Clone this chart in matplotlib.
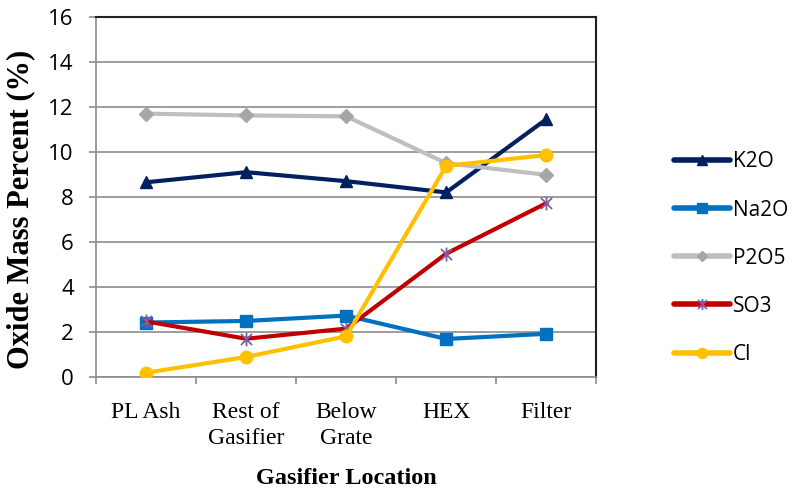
import matplotlib
matplotlib.use("Agg")
import matplotlib.pyplot as plt
from matplotlib.path import Path
from matplotlib.ticker import FixedLocator, NullFormatter

locations = ["PL Ash", "Rest of\nGasifier", "Below\nGrate", "HEX", "Filter"]
k2o = [8.65, 9.1, 8.7, 8.2, 11.45]
na2o = [2.42, 2.49, 2.73, 1.69, 1.92]
p2o5 = [11.7, 11.62, 11.58, 9.5, 8.98]
so3 = [2.47, 1.7, 2.15, 5.48, 7.72]
cl = [0.19, 0.89, 1.81, 9.38, 9.86]
y_ticks = [0, 2, 4, 6, 8, 10, 12, 14, 16]

# six-armed asterisk marker (an "x" with a vertical stroke)
asterisk = Path(
    [(-1, -1), (1, 1), (-1, 1), (1, -1), (0, -1.25), (0, 1.25)],
    [Path.MOVETO, Path.LINETO, Path.MOVETO, Path.LINETO, Path.MOVETO, Path.LINETO],
)

fig = plt.figure(figsize=(7.94, 4.9), dpi=100)
ax = fig.add_axes([0.121, 0.2306, 0.630, 0.735])

x = list(range(len(locations)))
lw = 3.0
ax.plot(x, k2o, color="#002060", lw=lw, marker="^", ms=9, label="K2O", zorder=3)
ax.plot(x, na2o, color="#0070C0", lw=lw, marker="s", ms=9, label="Na2O", zorder=3)
ax.plot(x, p2o5, color="#BFBFBF", lw=lw, marker="D", ms=7,
        mfc="#A6A6A6", mec="#A6A6A6", label="P2O5", zorder=3)
ax.plot(x, so3, color="#C00000", lw=lw, marker=asterisk, ms=10, mew=1.3,
        mec="#7F5FA0", mfc="none", label="SO3", zorder=4)
ax.plot(x, cl, color="#FFC000", lw=lw, marker="o", ms=9, label="Cl", zorder=5)

ax.set_xlim(-0.5, len(locations) - 0.5)
ax.set_ylim(0, 16)
ax.yaxis.set_major_locator(FixedLocator(y_ticks))
ax.grid(axis="y", color="#8C8C8C", lw=1.2, zorder=0)

ax.set_xticks(x)
ax.set_xticklabels(locations, fontfamily="Liberation Serif", fontsize=17,
                   linespacing=1.3)
ax.tick_params(axis="x", length=0, pad=18)
ax.xaxis.set_minor_locator(FixedLocator([i - 0.5 for i in range(len(locations) + 1)]))
ax.xaxis.set_minor_formatter(NullFormatter())
ax.tick_params(axis="x", which="minor", length=5, color="#8C8C8C", width=1.2)
ax.tick_params(axis="y", length=5, color="#8C8C8C", width=1.2, labelsize=16, pad=11)
for lbl in ax.get_yticklabels():
    lbl.set_fontfamily("Open Sans")

ax.spines["left"].set_color("#8C8C8C")
ax.spines["left"].set_linewidth(1.2)
ax.spines["bottom"].set_color("#8C8C8C")
ax.spines["bottom"].set_linewidth(1.2)
ax.spines["top"].set_color("#222222")
ax.spines["top"].set_linewidth(1.5)
ax.spines["right"].set_color("#222222")
ax.spines["right"].set_linewidth(1.5)

ax.set_ylabel("Oxide Mass Percent (%)", fontfamily="Liberation Serif",
              fontweight="bold", fontsize=22)
ax.yaxis.set_label_coords(-0.122, 0.466)
ax.set_xlabel("Gasifier Location", fontfamily="Liberation Serif",
              fontweight="bold", fontsize=17.5, labelpad=14)

leg = ax.legend(loc="center left", bbox_to_anchor=(1.156, 0.33), frameon=False,
                prop={"family": "Open Sans", "size": 15}, labelspacing=1.3,
                handlelength=2.65, handletextpad=0.15, borderpad=0,
                borderaxespad=0)
for line in leg.get_lines():
    line.set_linewidth(4)
    line.set_solid_capstyle("round")
    line.set_markersize(line.get_markersize() * 0.8)

fig.savefig("out.png", dpi=100)
